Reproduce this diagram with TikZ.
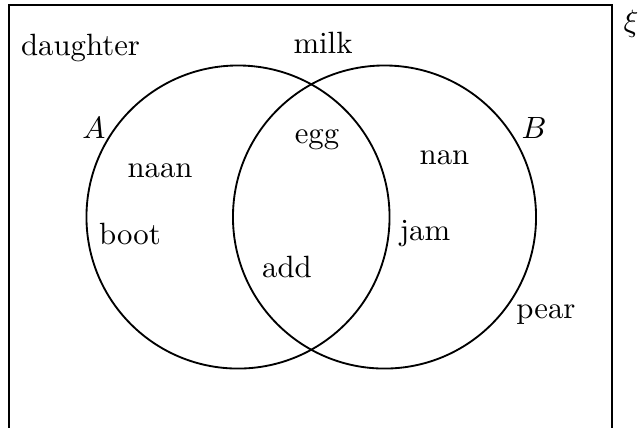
\documentclass[tikz,border=0pt]{standalone}
\begin{document}
\begin{tikzpicture}[x=0.325pt,y=-0.325pt,
  setcircle/.style={draw,circle,line width=0.6pt,minimum size=98.5pt,inner sep=0pt},
  lbl/.style={anchor=base,inner sep=0pt}]
\useasboundingbox (0,0) rectangle (638,427);
\draw[line width=0.6pt] (9,5) rectangle (612,440);
\node[setcircle] (A) at (238,217) {};
\node[setcircle] (B) at (384.5,217) {};
\node[lbl] (xi) at (631,31) {$\xi$};
\node[lbl] (daughter) at (80.5,55) {daughter};
\node[lbl] (milk) at (323,53) {milk};
\node[lbl] (la) at (94,138) {$A$};
\node[lbl] (lb) at (534,138) {$B$};
\node[lbl] (egg) at (317,143) {egg};
\node[lbl] (naan) at (160,177) {naan};
\node[lbl] (nan) at (444.5,164) {nan};
\node[lbl] (boot) at (130,244) {boot};
\node[lbl] (jam) at (425,240) {jam};
\node[lbl] (add) at (287,277) {add};
\node[lbl] (pear) at (546,318) {pear};
\end{tikzpicture}
\end{document}
